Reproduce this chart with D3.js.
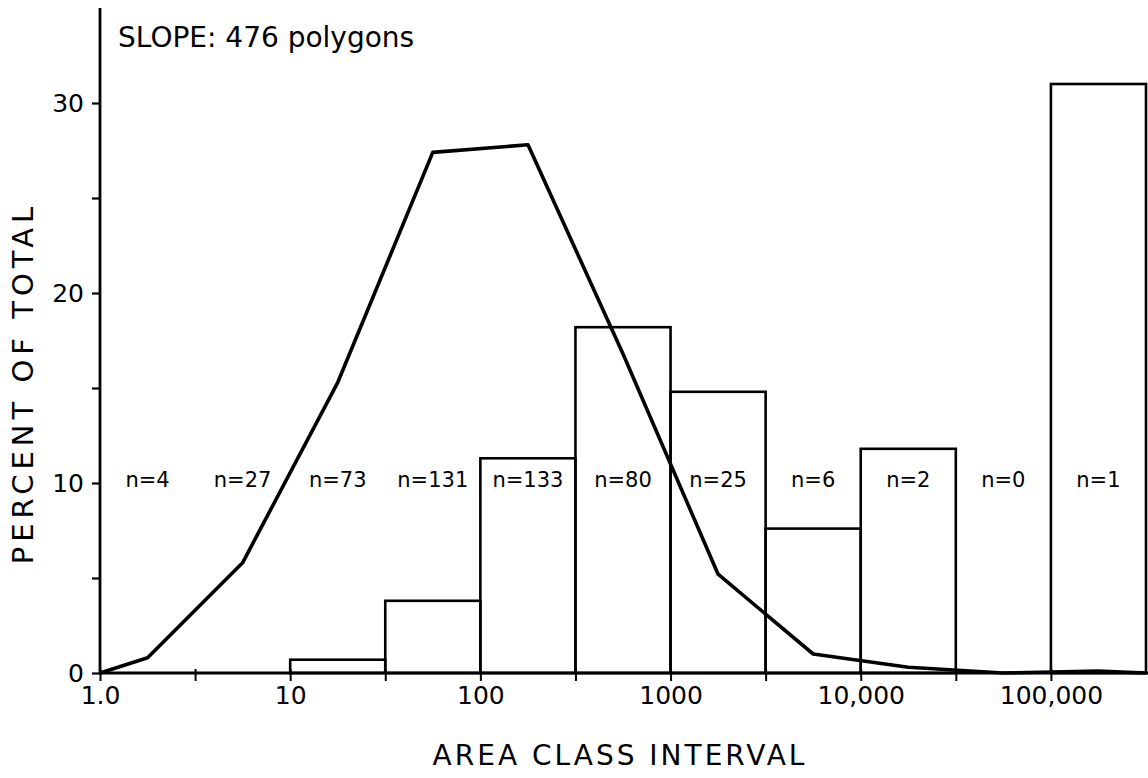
<!DOCTYPE html>
<html>
<head>
<meta charset="utf-8">
<script src="https://cdn.jsdelivr.net/npm/d3@7"></script>
<style>
  html, body { margin: 0; padding: 0; background: #fff; }
  svg { display: block; font-family: "DejaVu Sans", sans-serif; }
</style>
</head>
<body>
<svg id="chart" width="1148" height="778"></svg>
<script>
// class edges (half-decade steps of polygon area)
const binEdges = [1, 3.162, 10, 31.62, 100, 316.2, 1000, 3162, 10000, 31623, 100000, 316228];
// percent of total area in each class (bars)
const areaPct = [0, 0, 0.7, 3.8, 11.3, 18.2, 14.8, 7.6, 11.8, 0, 31.0];
// number of polygons in each class
const countN = [4, 27, 73, 131, 133, 80, 25, 6, 2, 0, 1];
// percent of polygons, plotted at class mid points (line)
const lineX = [1, 1.78, 5.62, 17.8, 56.2, 178, 562, 1778, 5623, 17783, 56234, 177828, 316228];
const lineY = [0, 0.8, 5.8, 15.3, 27.4, 27.8, 16.8, 5.2, 1.0, 0.3, 0, 0.1, 0];
// axis tick labels
const xTickValues = [1, 10, 100, 1000, 10000, 100000];
const xTickLabels = ["1.0", "10", "100", "1000", "10,000", "100,000"];
const yTickValues = [0, 5, 10, 15, 20, 25, 30];
const yTickLabels = ["0", "", "10", "", "20", "", "30"];

var svg = d3.select("#chart");

var x = d3.scaleLog().domain([1, 316228]).range([100, 1146]);
var y = d3.scaleLinear().domain([0, 30]).range([673, 103]);

// bars
var bins = areaPct.map(function (v, i) {
  return { x0: binEdges[i], x1: binEdges[i + 1], value: v, n: countN[i] };
});

svg
  .append("g")
  .selectAll("rect")
  .data(bins.filter(function (d) { return d.value > 0; }))
  .enter()
  .append("rect")
  .attr("x", function (d) { return x(d.x0); })
  .attr("y", function (d) { return y(d.value); })
  .attr("width", function (d) { return x(d.x1) - x(d.x0); })
  .attr("height", function (d) { return y(0) - y(d.value); })
  .attr("fill", "none")
  .attr("stroke", "#000")
  .attr("stroke-width", 2.6);

// frequency line
var pts = lineX.map(function (v, i) { return [v, lineY[i]]; });
var line = d3.line()
  .x(function (d) { return x(d[0]); })
  .y(function (d) { return y(d[1]); });

svg
  .append("path")
  .attr("d", line(pts))
  .attr("fill", "none")
  .attr("stroke", "#000")
  .attr("stroke-width", 3.6)
  .attr("stroke-linejoin", "round");

// n= labels
svg
  .append("g")
  .attr("font-size", "21px")
  .selectAll("text")
  .data(bins)
  .enter()
  .append("text")
  .attr("x", function (d) { return x(Math.sqrt(d.x0 * d.x1)); })
  .attr("y", 487)
  .attr("text-anchor", "middle")
  .text(function (d) { return "n=" + d.n; });

// x axis
var xAxis = d3.axisBottom(x)
  .tickValues(binEdges.slice(0, -1))
  .tickSize(8)
  .tickPadding(5)
  .tickFormat(function (d) {
    var k = xTickValues.indexOf(d);
    return k >= 0 ? xTickLabels[k] : "";
  });

var gx = svg.append("g")
  .attr("transform", "translate(0," + y(0) + ")")
  .call(xAxis);
gx.select(".domain").remove();
gx.selectAll(".tick line").attr("stroke", "#000").attr("stroke-width", 2).attr("y1", -4);
gx.selectAll(".tick text")
  .attr("font-size", "25px")
  .attr("font-family", "DejaVu Sans")
  .attr("fill", "#000");

svg
  .append("line")
  .attr("x1", x(1))
  .attr("x2", 1148)
  .attr("y1", y(0))
  .attr("y2", y(0))
  .attr("stroke", "#000")
  .attr("stroke-width", 3);

// y axis
var yAxis = d3.axisLeft(y)
  .tickValues(yTickValues)
  .tickSize(8)
  .tickPadding(8)
  .tickFormat(function (d, i) { return yTickLabels[i]; });

var gy = svg.append("g")
  .attr("transform", "translate(" + x(1) + ",0)")
  .call(yAxis);
gy.select(".domain").remove();
gy.selectAll(".tick line").attr("stroke", "#000").attr("stroke-width", 2.2);
gy.selectAll(".tick text")
  .attr("font-size", "25px")
  .attr("font-family", "DejaVu Sans")
  .attr("fill", "#000");

svg
  .append("line")
  .attr("x1", x(1))
  .attr("x2", x(1))
  .attr("y1", 8)
  .attr("y2", y(0))
  .attr("stroke", "#000")
  .attr("stroke-width", 2.8);

// titles
svg
  .append("text")
  .attr("x", 118)
  .attr("y", 47)
  .attr("font-size", "28px")
  .text("SLOPE: 476 polygons");

svg
  .append("text")
  .attr("x", 620)
  .attr("y", 765)
  .attr("text-anchor", "middle")
  .attr("font-size", "28px")
  .attr("letter-spacing", "3px")
  .text("AREA CLASS INTERVAL");

svg
  .append("text")
  .attr("transform", "translate(33,383) rotate(-90)")
  .attr("text-anchor", "middle")
  .attr("font-size", "29px")
  .attr("letter-spacing", "5px")
  .text("PERCENT OF TOTAL");
</script>
</body>
</html>
